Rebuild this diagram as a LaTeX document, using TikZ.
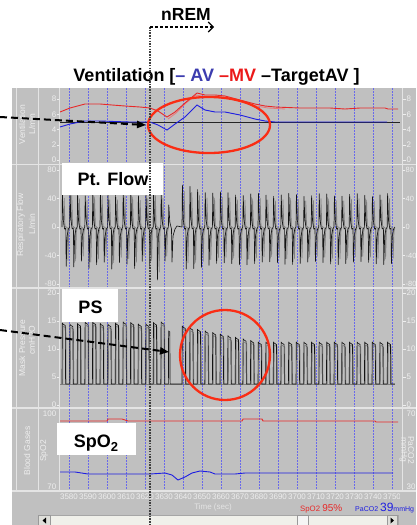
\documentclass[tikz,border=0pt]{standalone}
\usepackage{fontspec}
\setmainfont{Liberation Sans}
\usetikzlibrary{arrows.meta}
\definecolor{panelgray}{RGB}{192,192,192}
\definecolor{sepline}{RGB}{228,228,228}
\definecolor{lbltext}{RGB}{238,238,238}
\definecolor{gridblue}{RGB}{105,105,235}
\definecolor{mvred}{RGB}{232,40,40}
\definecolor{mvpink}{RGB}{235,120,120}
\definecolor{avblue}{RGB}{30,30,225}
\definecolor{ttlblue}{RGB}{60,60,175}
\definecolor{ttlred}{RGB}{235,25,25}
\definecolor{ellred}{RGB}{250,45,20}
\definecolor{scrollbg}{RGB}{240,240,234}
\tikzset{
  ticklbl/.style={font=\fontsize{8}{9}\selectfont, text=lbltext, inner sep=0pt},
  axlbl/.style={font=\fontsize{8.5}{9}\selectfont, text=lbltext, inner sep=0pt, align=center},
  gridln/.style={gridblue, dash pattern=on 1.5pt off 1.5pt, line width=0.6pt},
  sepln/.style={sepline, line width=1.6pt},
  vsepln/.style={sepline, line width=0.8pt},
  tickmk/.style={lbltext, line width=0.6pt},
  boxfill/.style={fill=white, inner sep=0pt},
  boxtxt/.style={inner sep=0pt, font=\fontsize{18}{20}\selectfont\bfseries},
  flowblk/.style={black!92, line width=0.65pt, line join=round},
  flowgry/.style={black!50, line width=0.65pt, line join=round},
  ringred/.style={ellred, line width=2.3pt},
  dasharr/.style={black, line width=2pt, dash pattern=on 7pt off 4pt, -{Triangle[length=9pt,width=7pt]}},
}
\begin{document}
\begin{tikzpicture}[x=1pt,y=-1pt]
\useasboundingbox (0,0) rectangle (416,525);
\fill[white] (0,0) rectangle (416,525);
\begin{scope}
\clip (12,88) rectangle (416,525);
\fill[panelgray] (12,88) rectangle (416,525);
% grid
\foreach \k in {0,...,17} \draw[gridln] (69+19*\k,88) -- (69+19*\k,490);
% separators
\foreach \yy in {164.5,288,408,491} \draw[sepln] (12,\yy) -- (416,\yy);
\foreach \xx in {16,38,59.5,402} \draw[vsepln] (\xx,88) -- (\xx,491);
% tick labels ventilation
\foreach \v/\yy [count=\c] in {10/84,8/99.2,6/114.4,4/129.6,2/144.8,0/160} {
  \node[ticklbl, anchor=east] (vl\c) at (56.5,\yy) {\v};
  \node[ticklbl, anchor=west] (vr\c) at (406.5,\yy) {\v};
  \draw[tickmk] (56.8,\yy) -- (59,\yy);
  \draw[tickmk] (403,\yy) -- (405.5,\yy);
}
\foreach \v/\yy [count=\c] in {80/170,40/198.5,0/227,-40/255.5,-80/284} {
  \node[ticklbl, anchor=east] (fl\c) at (56.5,\yy) {\v};
  \node[ticklbl, anchor=west, font=\fontsize{7.5}{9}\selectfont] (fr\c) at (405.5,\yy) {\v};
  \draw[tickmk] (56.8,\yy) -- (59,\yy);
  \draw[tickmk] (403,\yy) -- (405,\yy);
}
\foreach \v/\yy [count=\c] in {20/293,15/321,10/349,5/377,0/405} {
  \node[ticklbl, anchor=east] (pl\c) at (56.5,\yy) {\v};
  \node[ticklbl, anchor=west] (pr\c) at (406.5,\yy) {\v};
  \draw[tickmk] (56.8,\yy) -- (59,\yy);
  \draw[tickmk] (403,\yy) -- (405.5,\yy);
}
\node[ticklbl, anchor=east] (sl1) at (56.5,414) {100};
\node[ticklbl, anchor=east] (sl2) at (56.5,487) {70};
\node[ticklbl, anchor=west] (sr1) at (406.5,414) {70};
\node[ticklbl, anchor=west] (sr2) at (406.5,487) {30};
% axis titles
\node[axlbl, rotate=90] (vt1) at (22,124.5) {Ventilation};
\node[axlbl, rotate=90] (vt2) at (32,124) {L/min};
\node[axlbl, rotate=90] (ft1) at (21,225) {Respiratory Flow};
\node[axlbl, rotate=90] (ft2) at (32,224) {L/min};
\node[axlbl, rotate=90] (pt1) at (22,348) {Mask Pressure};
\node[axlbl, rotate=90] (pt2) at (32,340) {cmH2O};
\node[axlbl, rotate=90] (st1) at (27,451) {Blood Gases};
\node[axlbl, rotate=90] (st2) at (44,451) {SpO2};
\node[axlbl, rotate=-90] (rt1) at (411,450) {PaCO2};
\node[axlbl, rotate=-90] (rt2) at (403.5,450) {mmHg};
% x labels
\begin{scope}
\clip (12,488) rectangle (399,505);
\foreach \k [evaluate=\k as \lab using {int(3580+10*\k)}] in {0,...,17}
  \node[ticklbl] (xl\k) at (69+19*\k,497) {\lab};
\end{scope}
\node[ticklbl, text=sepline] (timelbl) at (213,507) {Time (sec)};
\node[anchor=base west, inner sep=0pt, text=mvred] (spo2rd) at (300,511)
  {\fontsize{7.8}{8}\selectfont SpO2 \fontsize{10}{10}\selectfont 95\%};
\node[anchor=base west, inner sep=0pt, text=avblue] (pacord) at (355,511)
  {\fontsize{7}{8}\selectfont PaCO2 \fontsize{12}{12}\selectfont 39\fontsize{7}{8}\selectfont mmHg};
% scrollbar
\fill[scrollbg] (38,515) rectangle (398,526);
\draw[black!35, line width=0.5pt] (38,515) rectangle (398,526);
\draw[black!40, fill=scrollbg!85!gray, line width=0.5pt] (38.5,515.5) rectangle (50,526);
\fill[black] (46,517.5) -- (42.5,520.5) -- (46,523.5) -- cycle;
\draw[black!40, fill=scrollbg!85!gray, line width=0.5pt] (387,515.5) rectangle (397.5,526);
\fill[black] (390.5,517.5) -- (394,520.5) -- (390.5,523.5) -- cycle;
\draw[black!40, fill=white!92!gray, line width=0.5pt] (297,515.5) rectangle (308,526);
% ventilation curves
\draw[black!85, line width=0.8pt] (60,122) -- (400,122);
\draw[mvpink, line width=0.8pt] plot coordinates {(168,119) (176,113) (186,103) (196,95) (206,97) (216,97) (228,98) (242,102) (256,106) (268,108) (285,109)};
\draw[mvred, line width=0.9pt] plot coordinates {(60,112) (70,108) (85,104) (100,104) (112,105) (125,106) (140,107) (150,108) (158,111) (167,117) (175,112) (185,103) (197,93) (205,95) (215,95) (225,96) (240,100) (255,104) (265,106) (275,107) (300,108) (330,108) (345,109) (360,108) (385,108) (388,109) (398,109)};
\draw[avblue, line width=0.9pt] plot coordinates {(60,127) (70,124) (85,121) (100,121) (130,122) (150,122) (158,125) (167,130) (175,124) (185,117) (197,105) (205,110) (215,112) (225,112) (240,115) (255,119) (265,121) (275,122) (387,122)};
% flow and pressure: left breaths
\draw[flowgry] (60,384) -- (395,384);
\foreach \i in {0,...,13} {
  \pgfmathsetmacro\xo{62+7.6*\i}
  \pgfmathsetmacro\A{34+3*sin(\i*97)}
  \pgfmathsetmacro\B{ifthenelse(\i==12,53,38+4*sin(\i*131+20))}
  \pgfmathsetmacro\pk{323+1.2*sin(\i*77)}
  \draw[flowgry] (\xo+1.8,225) -- (\xo+2.2,227-0.85*\A) -- (\xo+3,226) -- (\xo+5.6,228) -- (\xo+6,227+0.85*\B) -- (\xo+6.8,232) -- (\xo+7.6,228);
  \draw[flowblk] (\xo,227) -- (\xo+0.4,227-\A) -- (\xo+1.3,220) -- (\xo+2.6,229) -- (\xo+3.8,228) -- (\xo+4.2,227+\B) -- (\xo+5.1,236) -- (\xo+6.4,229) -- (\xo+7.6,227);
  \draw[flowgry] (\xo+0.8,384) -- (\xo+1.1,\pk+3) -- (\xo+3.9,\pk+5) -- (\xo+4.2,384);
  \draw[flowblk] (\xo,384) -- (\xo+0.3,\pk) -- (\xo+0.9,\pk+1) -- (\xo+3.3,\pk+2.5) -- (\xo+3.6,384) -- (\xo+7.6,384);
}
% transition breath
\draw[flowblk] (168.4,227) -- (168.8,205) -- (169.8,222) -- (171.5,229) -- (172,262) -- (173,236) -- (175,229) -- (177,226) -- (182,227);
\draw[flowblk] (168.4,384) -- (168.6,331) -- (169.8,332) -- (170.1,384) -- (182,384);
% right breaths
\foreach \j in {0,...,27} {
  \pgfmathsetmacro\xo{182+7.6*\j}
  \pgfmathsetmacro\A{32+10*exp(-\j/3)+1.5*sin(\j*83)}
  \pgfmathsetmacro\B{36+6*exp(-\j/3)+1.5*sin(\j*59)}
  \pgfmathsetmacro\pk{min(342,326+0.21*(\xo-182))}
  \draw[flowgry] (\xo+1.8,225) -- (\xo+2.2,227-0.85*\A) -- (\xo+3,226) -- (\xo+5.6,228) -- (\xo+6,227+0.85*\B) -- (\xo+6.8,232) -- (\xo+7.6,228);
  \draw[flowblk] (\xo,227) -- (\xo+0.4,227-\A) -- (\xo+1.3,220) -- (\xo+2.6,229) -- (\xo+3.8,228) -- (\xo+4.2,227+\B) -- (\xo+5.1,236) -- (\xo+6.4,229) -- (\xo+7.6,227);
  \draw[flowgry] (\xo+0.8,384) -- (\xo+1.1,\pk+3) -- (\xo+3.9,\pk+5) -- (\xo+4.2,384);
  \draw[flowblk] (\xo,384) -- (\xo+0.3,\pk) -- (\xo+0.9,\pk+1) -- (\xo+3.3,\pk+2.5) -- (\xo+3.6,384) -- (\xo+7.6,384);
}
% SpO2 / PaCO2 curves
\draw[mvred, line width=0.9pt] plot coordinates {(60,421) (107,421) (108,419) (122,419) (125,420) (128,421) (242,421) (243,419) (262,419) (263,421) (375,421) (376,422) (398,422)};
\draw[avblue, line width=0.9pt] plot coordinates {(60,472) (75,472) (88,474) (120,474) (150,474) (165,473) (172,475) (178,480) (185,477) (192,473) (200,471) (210,472) (215,474) (235,474) (245,473) (393,473)};
\end{scope}
% white label boxes
\node[boxfill, minimum width=101pt, minimum height=32pt] (ptbox) at (112.5,179) {};
\node[boxtxt, anchor=base] (pttxt) at (113,185.5) {Pt. Flow};
\node[boxfill, minimum width=56pt, minimum height=33pt] (psbox) at (90,305.5) {};
\node[boxtxt, anchor=base] (pstxt) at (90.5,313) {PS};
\node[boxfill, minimum width=79pt, minimum height=32pt] (spbox) at (96.5,439) {};
\node[boxtxt, anchor=base] (sptxt) at (96,447) {SpO\raisebox{-4pt}{\fontsize{13}{13}\selectfont 2}};
% red rings
\draw[ringred] (209,125) ellipse [x radius=61pt, y radius=28pt];
\draw[ringred] (225,355) circle [radius=45pt];
% title and nREM
\node[inner sep=0pt, anchor=base, font=\fontsize{18}{20}\selectfont\bfseries] (title) at (216.5,81)
  {Ventilation [\textcolor{ttlblue}{– AV} \textcolor{ttlred}{–MV} –TargetAV ]};
\node[inner sep=0pt, anchor=base, font=\fontsize{17.5}{20}\selectfont\bfseries] (nrem) at (186,20.5) {nREM};
\coordinate (mark) at (150,27);
\coordinate (markend) at (150,525);
\coordinate (nremend) at (214,27);
\draw[black!75, line width=1.2pt, dash pattern=on 1.5pt off 1.2pt] (mark) -- (markend);
\draw[black, line width=1.1pt, dash pattern=on 3pt off 2pt, -{Straight Barb[length=5pt,width=10pt]}] (mark) -- (nremend);
% dashed pointers
\coordinate (a1s) at (0,117);
\coordinate (a1e) at (146,125);
\coordinate (a2s) at (0,330);
\coordinate (a2e) at (169,352);
\draw[dasharr] (a1s) -- (a1e);
\draw[dasharr] (a2s) -- (a2e);
\end{tikzpicture}
\end{document}
